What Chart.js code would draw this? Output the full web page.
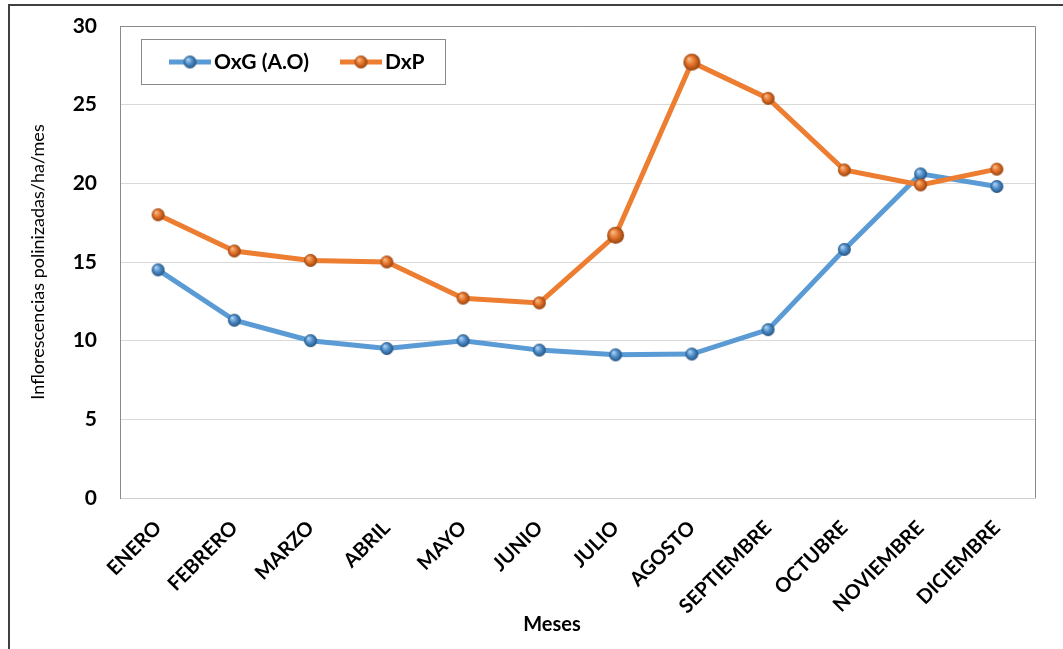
<!DOCTYPE html>
<html>
<head>
<meta charset="utf-8">
<title>Inflorescencias polinizadas</title>
<script src="https://cdn.jsdelivr.net/npm/chart.js@4.4.0/dist/chart.umd.min.js"></script>
<style>
  html, body { margin: 0; padding: 0; background: #fff; }
  #wrap { position: relative; width: 1063px; height: 649px; overflow: hidden; }
  #wrap canvas { position: absolute; left: 0; top: 0; }
  /* marco oscuro superior e izquierdo */
  #marco { position: absolute; left: 8px; top: 4px; right: -10px; bottom: -10px;
           border-top: 2px solid #404040; border-left: 2px solid #404040; pointer-events: none; }
</style>
</head>
<body>
<div id="wrap">
  <canvas id="polinizacionChart" width="1063" height="649"></canvas>
  <div id="marco"></div>
</div>
<script>
// Datos por mes
const meses = ['ENERO', 'FEBRERO', 'MARZO', 'ABRIL', 'MAYO', 'JUNIO',
               'JULIO', 'AGOSTO', 'SEPTIEMBRE', 'OCTUBRE', 'NOVIEMBRE', 'DICIEMBRE'];
const oxg = [14.5, 11.3, 10.0, 9.5, 10.0, 9.4, 9.1, 9.15, 10.7, 15.8, 20.6, 19.8];
const dxp = [18.0, 15.7, 15.1, 15.0, 12.7, 12.4, 16.7, 27.7, 25.4, 20.85, 19.9, 20.9];
const etiquetas = ['OxG (A.O)', 'DxP'];

const AZUL = '#5b9bd5';
const NARANJA = '#ed7d31';

Chart.defaults.font.family = 'Lato, "Open Sans", sans-serif';

// Marcador tipo esfera (brillo arriba a la izquierda)
function esfera(r, claro, medio, oscuro) {
    const s = Math.ceil(r * 2 + 2);
    const c = document.createElement('canvas');
    c.width = s; c.height = s;
    const g = c.getContext('2d');
    const cx = s / 2, cy = s / 2;
    const grad = g.createRadialGradient(cx - r * 0.35, cy - r * 0.4, r * 0.05, cx, cy, r);
    grad.addColorStop(0, claro);
    grad.addColorStop(0.5, medio);
    grad.addColorStop(1, oscuro);
    g.fillStyle = grad;
    g.beginPath();
    g.arc(cx, cy, r, 0, Math.PI * 2);
    g.fill();
    return c;
}

const bolaAzul = esfera(6.5, '#b5d5f2', '#4f8fcc', '#24527e');
const bolaNaranja = esfera(6.5, '#f8bd8c', '#e5732a', '#93420e');
const bolaNaranjaGrande = esfera(8.5, '#f8bd8c', '#e5732a', '#93420e');

// Leyenda dentro del área de trazado + título del eje X
const leyendaInterna = {
    id: 'leyendaInterna',
    beforeDatasetsDraw(chart) {
        const { ctx, chartArea: a } = chart;
        ctx.save();
        ctx.strokeStyle = '#8a8a8a';
        ctx.lineWidth = 1;
        ctx.beginPath();
        ctx.moveTo(a.left, Math.round(a.top) + 0.5);
        ctx.lineTo(Math.round(a.right) + 0.5, Math.round(a.top) + 0.5);
        ctx.lineTo(Math.round(a.right) + 0.5, a.bottom);
        ctx.stroke();
        ctx.restore();
    },
    afterDraw(chart) {
        const { ctx, chartArea: a } = chart;
        ctx.save();
        const bx = a.left + 21, by = a.top + 13;
        ctx.fillStyle = '#fff';
        ctx.fillRect(bx, by, 304, 45);
        ctx.strokeStyle = '#8a8a8a';
        ctx.lineWidth = 1;
        ctx.strokeRect(Math.round(bx) + 0.5, Math.round(by) + 0.5, 304, 45);

        const entradas = [
            { x: bx + 28, ds: chart.data.datasets[0], bola: bolaAzul },
            { x: bx + 199, ds: chart.data.datasets[1], bola: bolaNaranja }
        ];
        const cy = by + 23;
        ctx.font = 'bold 21px Lato, "Open Sans", sans-serif';
        ctx.textBaseline = 'middle';
        ctx.fillStyle = '#000';
        entradas.forEach(e => {
            ctx.strokeStyle = e.ds.borderColor;
            ctx.lineWidth = 5;
            ctx.beginPath();
            ctx.moveTo(e.x, cy);
            ctx.lineTo(e.x + 42, cy);
            ctx.stroke();
            ctx.drawImage(e.bola, e.x + 21 - e.bola.width / 2, cy - e.bola.height / 2);
            ctx.fillText(e.ds.label, e.x + 45, cy);
        });

        ctx.font = 'bold 20px Lato, "Open Sans", sans-serif';
        ctx.textAlign = 'center';
        ctx.fillText('Meses', 552, 625);
        ctx.restore();
    }
};

const ctx = document.getElementById('polinizacionChart').getContext('2d');
const polinizacionChart = new Chart(ctx, {
    type: 'line',
    data: {
        labels: meses,
        datasets: [{
            label: etiquetas[0],
            data: oxg,
            borderColor: AZUL,
            borderWidth: 5,
            pointStyle: bolaAzul,
            tension: 0,
            order: 2
        }, {
            label: etiquetas[1],
            data: dxp,
            borderColor: NARANJA,
            borderWidth: 5,
            // julio y agosto con marcador más grande
            pointStyle: c => (c.dataIndex === 6 || c.dataIndex === 7) ? bolaNaranjaGrande : bolaNaranja,
            tension: 0,
            order: 1
        }]
    },
    options: {
        responsive: false,
        animation: false,
        layout: { padding: { top: 26, right: 28, left: 0, bottom: 0 } },
        plugins: { legend: { display: false }, tooltip: { enabled: false } },
        scales: {
            x: {
                offset: true,
                grid: { display: false, drawTicks: false, offset: true },
                border: { display: true, color: '#d0d0d0', width: 1 },
                ticks: {
                    color: '#000',
                    font: { size: 20, weight: 'bold' },
                    minRotation: 45, maxRotation: 45,
                    autoSkip: false,
                    padding: 18
                },
                afterFit(scale) { scale.height = 151; }
            },
            y: {
                min: 0, max: 30,
                grid: { color: '#d9d9d9', drawTicks: true, tickLength: 20, tickColor: 'transparent' },
                border: { display: true, color: '#8a8a8a', width: 1 },
                ticks: {
                    stepSize: 5,
                    color: '#000',
                    font: { size: 21, weight: 'bold' },
                    padding: 3
                },
                title: {
                    display: true,
                    text: 'Inflorescencias polinizadas/ha/mes',
                    color: '#000',
                    font: { size: 18 },
                    padding: { top: 27, bottom: 0 }
                },
                afterFit(scale) { scale.width = 120; }
            }
        }
    },
    plugins: [leyendaInterna]
});
</script>
</body>
</html>
